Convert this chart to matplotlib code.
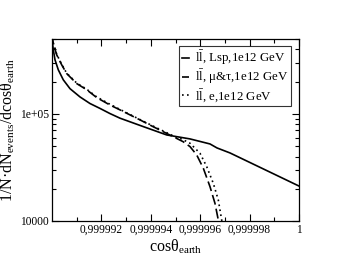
import numpy as np
import matplotlib
matplotlib.use("Agg")
import matplotlib.pyplot as plt
from matplotlib.ticker import FuncFormatter, FixedLocator

plt.rcParams['font.family'] = ['Liberation Serif', 'DejaVu Serif']
plt.rcParams['mathtext.fontset'] = 'custom'
plt.rcParams['mathtext.rm'] = 'Liberation Serif'
plt.rcParams['mathtext.it'] = 'Liberation Serif:italic'
plt.rcParams['mathtext.default'] = 'rm'

# x given as offset from 0.99999 in units of 1e-6
lsp_d = [0, 0.053, 0.121, 0.255, 0.457, 0.729, 1.134, 1.538, 1.943, 2.348, 2.753,
         3.696, 4.644, 5.587, 6.397, 6.68, 7.206, 10]
lsp_v = [5.0e5, 3.96e5, 3.2e5, 2.58e5, 2.08e5, 1.72e5, 1.44e5, 1.25e5, 1.125e5,
         1.007e5, 9.12e4, 7.61e4, 6.36e4, 5.84e4, 5.24e4, 4.81e4, 4.32e4, 2.12e4]

mutau_d = [0, 0.053, 0.19, 0.393, 0.595, 1.0, 1.405, 1.81, 2.348, 2.753, 3.563,
           4.089, 4.899, 5.304, 5.587, 5.858, 6.126, 6.397, 6.599, 6.733, 6.75]
mutau_v = [5.6e5, 4.54e5, 3.56e5, 2.87e5, 2.38e5, 1.92e5, 1.68e5, 1.42e5, 1.21e5,
           1.09e5, 8.79e4, 7.61e4, 6.14e4, 5.51e4, 4.95e4, 4.14e4, 3.11e4, 2.09e4,
           1.46e4, 1.02e4, 9.8e3]

e_d = [0, 0.053, 0.19, 0.393, 0.595, 1.0, 1.405, 1.81, 2.348, 2.753, 3.563,
       4.089, 4.899, 5.304, 5.587, 5.992, 6.263, 6.53, 6.733, 6.87, 6.9]
e_v = [5.7e5, 4.6e5, 3.6e5, 2.9e5, 2.4e5, 1.94e5, 1.7e5, 1.44e5, 1.23e5,
       1.1e5, 8.85e4, 7.7e4, 6.25e4, 5.75e4, 5.32e4, 4.29e4, 3.22e4, 2.25e4,
       1.57e4, 1.02e4, 9.8e3]

labels = [r"l$\bar{\mathrm{l}}$, Lsp,1e12 GeV",
          r"l$\bar{\mathrm{l}}$, μ&τ,1e12 GeV",
          r"l$\bar{\mathrm{l}}$, e,1e12 GeV"]

x_tick_vals = [0.999992, 0.999994, 0.999996, 0.999998, 1.0]
x0 = 0.99999


def to_x(d):
    return x0 + np.array(d) * 1e-6


fig = plt.figure(figsize=(3.39, 2.62), dpi=100)
ax = fig.add_axes([0.1534, 0.1565, 0.7286, 0.6945])

ax.plot(to_x(lsp_d), lsp_v, color='black', lw=1.2, ls='-', label=labels[0])
ax.plot(to_x(mutau_d), mutau_v, color='black', lw=1.2, ls=(0, (6, 2.5)), label=labels[1])
ax.plot(to_x(e_d), e_v, color='black', lw=1.2, ls=(0, (1, 2)), label=labels[2])

ax.set_yscale('log')
ax.set_xlim(0.99999, 1.0)
ax.set_ylim(1e4, 5e5)

ax.xaxis.set_major_locator(FixedLocator(x_tick_vals))
ax.xaxis.set_minor_locator(FixedLocator([0.999991, 0.999993, 0.999995, 0.999997, 0.999999]))


def xfmt(v, pos):
    if abs(v - 1.0) < 1e-9:
        return "1"
    return ("%.6f" % v).replace('.', ',')


def yfmt(v, pos):
    if abs(v - 1e4) < 1:
        return "10000"
    if abs(v - 1e5) < 1:
        return "1e+05"
    return ""


ax.xaxis.set_major_formatter(FuncFormatter(xfmt))
ax.yaxis.set_major_locator(FixedLocator([1e4, 1e5]))
ax.yaxis.set_major_formatter(FuncFormatter(yfmt))
ax.yaxis.set_minor_formatter(FuncFormatter(lambda v, p: ""))

ax.tick_params(which='both', direction='in', top=True, right=True, labelsize=8.3, pad=2)
ax.tick_params(which='major', length=5, width=0.8)
ax.tick_params(which='minor', length=3, width=0.8)
for s in ax.spines.values():
    s.set_linewidth(0.9)

ax.set_xlabel(r"cosθ$_{\mathrm{earth}}$", fontsize=11.5, labelpad=1)
ax.set_ylabel(r"1/N·dN$_{\mathrm{events}}$/dcosθ$_{\mathrm{earth}}$", fontsize=11.5, labelpad=2)

leg = ax.legend(loc='upper right', bbox_to_anchor=(0.968, 0.96), fontsize=9.3,
                frameon=True, fancybox=False, edgecolor='black', handlelength=0.6,
                handletextpad=0.45, borderpad=0.2, labelspacing=0.05, borderaxespad=0)
leg.get_frame().set_linewidth(0.8)

fig.savefig("out.png", dpi=100)
